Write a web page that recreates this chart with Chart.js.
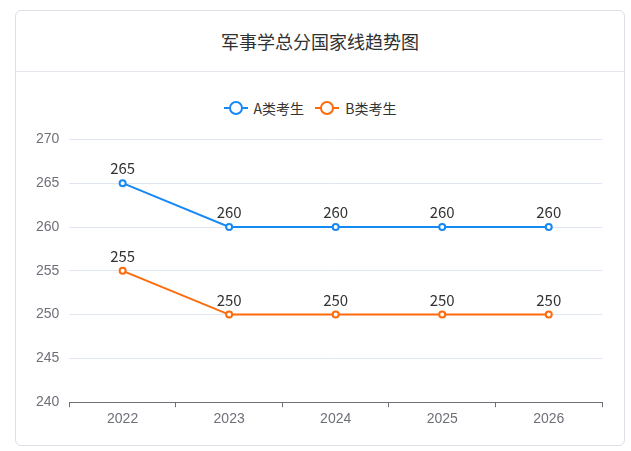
<!DOCTYPE html>
<html><head><meta charset="utf-8">
<script src="https://cdn.jsdelivr.net/npm/chart.js@4"></script>
<style>
body{margin:0;background:#fff;font-family:"Noto Sans CJK SC","Noto Sans",sans-serif;}
.card{position:absolute;left:15px;top:10px;width:610px;height:436px;border:1px solid #dcdfe6;border-radius:6px;box-sizing:border-box;}
.title{height:60px;border-bottom:1px solid #e4e7ed;text-align:center;line-height:60px;font-size:18px;color:#303133;}
.legend{position:absolute;top:82px;left:-10px;width:100%;text-align:center;font-size:14px;color:#333;}
.legend span{display:inline-flex;align-items:center;margin:0 4px;}
.legend i{position:relative;display:inline-block;width:24px;height:2px;margin-right:6px;}
.legend i b{position:absolute;left:5px;top:-6px;width:10px;height:10px;border-radius:50%;border:2px solid;background:#fff;}
.wrap{position:absolute;left:0;top:110px;width:608px;height:324px;}
</style></head>
<body>
<div class="card">
  <div class="title">军事学总分国家线趋势图</div>
  <div class="legend">
    <span><i style="background:#1789f5"><b style="border-color:#1789f5"></b></i>A类考生</span>
    <span><i style="background:#ff6a0a"><b style="border-color:#ff6a0a"></b></i>B类考生</span>
  </div>
  <div class="wrap"><canvas id="myChart"></canvas></div>
</div>
<script>
const ctx = document.getElementById('myChart').getContext('2d');

const years = ['2022', '2023', '2024', '2025', '2026'];
const scoresA = [265, 260, 260, 260, 260];
const scoresB = [255, 250, 250, 250, 250];
const seriesNames = ['A类考生', 'B类考生'];

// draw value labels above each point
const valueLabels = {
    id: 'valueLabels',
    afterDatasetsDraw(chart) {
        const c = chart.ctx;
        c.save();
        c.font = '15px "Noto Sans CJK SC", sans-serif';
        c.fillStyle = '#333';
        c.textAlign = 'center';
        c.textBaseline = 'bottom';
        chart.data.datasets.forEach((ds, i) => {
            chart.getDatasetMeta(i).data.forEach((pt, j) => {
                c.fillText(ds.data[j], pt.x, pt.y - 7);
            });
        });
        c.restore();
    }
};

new Chart(ctx, {
    type: 'line',
    data: {
        labels: years,
        datasets: [{
            label: seriesNames[0],
            data: scoresA,
            borderColor: '#1789f5',
            backgroundColor: '#fff',
            pointBorderColor: '#1789f5',
            borderWidth: 2, pointRadius: 3, pointBorderWidth: 2, tension: 0
        }, {
            label: seriesNames[1],
            data: scoresB,
            borderColor: '#ff6a0a',
            backgroundColor: '#fff',
            pointBorderColor: '#ff6a0a',
            borderWidth: 2, pointRadius: 3, pointBorderWidth: 2, tension: 0
        }]
    },
    options: {
        responsive: true,
        maintainAspectRatio: false,
        animation: false,
        layout: { padding: { top: 18, right: 22, left: 10, bottom: 13 } },
        plugins: { legend: { display: false }, tooltip: { enabled: false } },
        scales: {
            x: {
                offset: true,
                grid: { offset: true, drawOnChartArea: false, drawTicks: true, tickLength: 5, color: '#6e7079' },
                border: { color: '#6e7079' },
                ticks: { color: '#6e7079', font: { size: 14 }, padding: 4 }
            },
            y: {
                min: 240, max: 270,
                ticks: { stepSize: 5, color: '#6e7079', font: { size: 14 }, padding: 10 },
                grid: { color: '#e0e6f1', drawTicks: false },
                border: { display: false }
            }
        }
    },
    plugins: [valueLabels]
});
</script>
</body></html>
